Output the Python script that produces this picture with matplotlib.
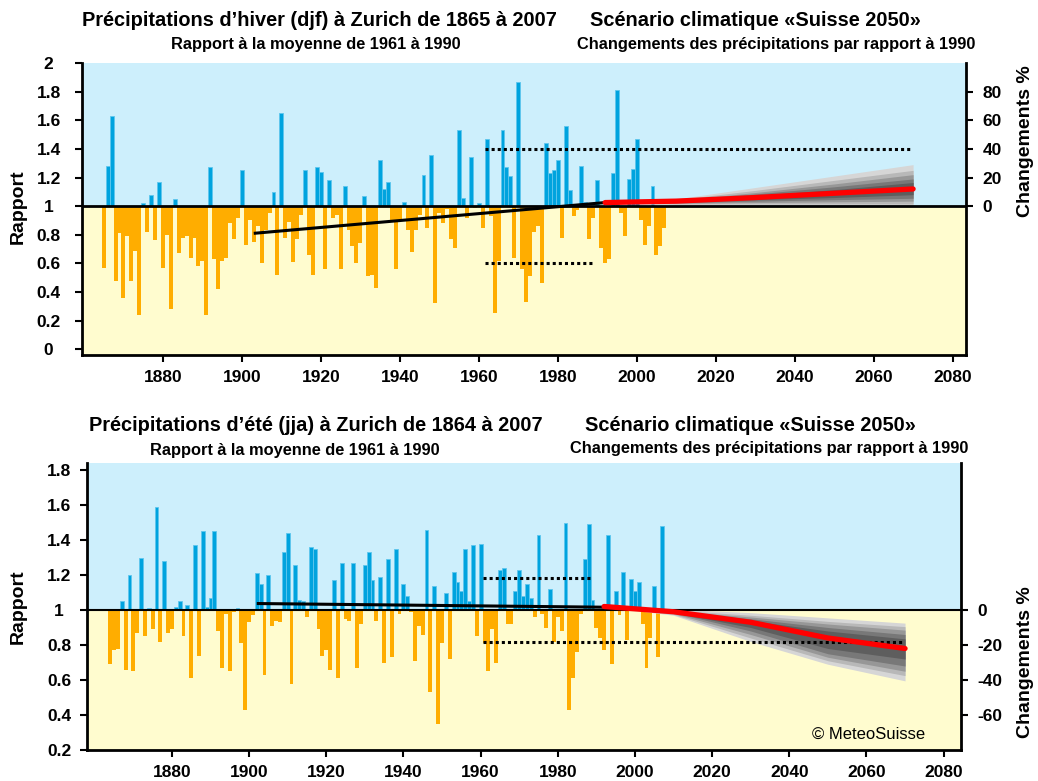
import matplotlib
matplotlib.use("Agg")
import matplotlib.pyplot as plt
import numpy as np

plt.rcParams['font.family'] = ['Liberation Sans', 'DejaVu Sans']

# ---------------- data ----------------
winter_years = list(range(1865, 2008))
winter_ratio = [
    0.57, 1.28, 1.63, 0.48, 0.81, 0.36, 0.79, 0.48, 0.69, 0.24,   # 1865-1874
    1.02, 0.82, 1.08, 0.76, 1.17, 0.57, 0.80, 0.28, 1.05, 0.67,   # 1875-1884
    0.78, 0.79, 0.64, 0.78, 0.58, 0.62, 0.24, 1.27, 0.63, 0.42,   # 1885-1894
    0.62, 0.64, 0.88, 0.77, 0.92, 1.25, 0.73, 0.90, 0.75, 0.86,   # 1895-1904
    0.60, 0.83, 0.95, 1.10, 0.52, 1.65, 0.78, 0.89, 0.61, 0.77,   # 1905-1914
    0.94, 1.25, 0.66, 0.52, 1.27, 1.24, 0.56, 1.18, 0.92, 0.94,   # 1915-1924
    0.56, 1.14, 0.83, 0.72, 0.60, 0.74, 1.07, 0.51, 0.52, 0.43,   # 1925-1934
    1.32, 1.12, 1.17, 0.90, 0.56, 0.90, 1.03, 0.83, 0.68, 0.83,   # 1935-1944
    0.94, 1.22, 0.85, 1.36, 0.32, 0.95, 0.88, 0.98, 0.77, 0.71,   # 1945-1954
    1.53, 1.06, 0.92, 1.34, 0.99, 1.02, 0.85, 1.47, 0.93, 0.25,   # 1955-1964
    0.62, 1.53, 1.27, 1.21, 0.64, 1.87, 0.56, 0.33, 0.51, 0.82,   # 1965-1974
    0.86, 0.46, 1.44, 1.23, 1.25, 1.32, 0.78, 1.56, 1.11, 0.93,   # 1975-1984
    0.97, 1.28, 1.03, 0.77, 0.92, 1.18, 0.71, 0.60, 0.63, 1.23,   # 1985-1994
    1.81, 0.95, 0.79, 1.19, 1.26, 1.47, 0.90, 0.73, 0.86, 1.14,   # 1995-2004
    0.66, 0.72, 0.85,                                             # 2005-2007
]

summer_years = list(range(1864, 2008))
summer_ratio = [
    0.69, 0.77, 0.78, 1.05, 0.66, 1.20,                           # 1864-1869
    0.65, 0.87, 1.30, 0.85, 1.01, 0.89, 1.59, 0.82, 1.28, 0.87,   # 1870-1879
    0.89, 1.02, 1.05, 0.85, 1.03, 0.61, 1.37, 0.74, 1.45, 1.02,   # 1880-1889
    1.07, 1.45, 0.88, 0.67, 0.98, 0.65, 0.99, 1.01, 0.81, 0.43,   # 1890-1899
    0.93, 0.97, 1.21, 1.15, 0.63, 1.20, 0.91, 0.94, 0.93, 1.33,   # 1900-1909
    1.44, 0.58, 1.26, 1.06, 1.05, 0.96, 1.36, 1.35, 0.89, 0.74,   # 1910-1919
    0.77, 0.66, 1.17, 0.61, 1.27, 0.95, 0.94, 1.27, 0.67, 0.92,   # 1920-1929
    1.26, 1.33, 1.17, 0.94, 1.19, 0.70, 1.29, 0.73, 1.35, 0.98,   # 1930-1939
    1.15, 1.08, 0.99, 0.71, 0.91, 0.86, 1.46, 0.53, 1.14, 0.35,   # 1940-1949
    0.81, 1.10, 0.72, 1.22, 1.16, 1.11, 1.35, 1.05, 1.37, 0.85,   # 1950-1959
    1.38, 0.81, 0.65, 0.89, 0.70, 1.23, 1.24, 0.92, 0.92, 1.11,   # 1960-1969
    1.23, 1.08, 1.15, 1.07, 0.96, 1.43, 0.98, 0.90, 1.12, 0.82,   # 1970-1979
    0.96, 0.88, 1.50, 0.43, 0.61, 0.76, 0.98, 1.29, 1.49, 1.06,   # 1980-1989
    0.90, 0.84, 0.77, 1.43, 0.69, 1.11, 0.97, 1.22, 0.83, 1.18,   # 1990-1999
    1.11, 1.16, 0.92, 0.67, 0.84, 1.14, 0.73, 1.48,               # 2000-2007
]

# linear trends (start year, end year, start value, end value)
winter_trend_years = [1903, 1992]
winter_trend_vals = [0.81, 1.025]
summer_trend_years = [1902, 1992]
summer_trend_vals = [1.037, 1.016]

# scenario "Suisse 2050" (percent change relative to 1990)
scen_years = [1992, 2010, 2030, 2050, 2070]
winter_median = [2.5, 3.5, 6.0, 9.0, 12.0]
winter_bands = [  # (low, high) from outer to inner
    ([2.5, 1.0, 0.5, 0.0, 0.0], [2.5, 5.0, 13.0, 21.0, 29.0]),
    ([2.5, 1.5, 1.5, 1.5, 1.5], [2.5, 4.5, 11.0, 18.0, 25.0]),
    ([2.5, 2.0, 2.5, 3.0, 3.5], [2.5, 4.0, 9.5, 15.5, 22.0]),
    ([2.5, 2.5, 3.5, 4.5, 5.5], [2.5, 3.8, 8.5, 13.5, 19.0]),
    ([2.5, 3.0, 4.5, 6.0, 8.0], [2.5, 3.5, 7.5, 11.5, 16.5]),
]
summer_median = [2.0, -1.0, -7.0, -16.0, -22.0]
summer_bands = [
    ([2.0, -3.0, -18.0, -31.0, -40.5], [2.0, 0.5, -1.5, -4.5, -7.5]),
    ([2.0, -2.5, -16.0, -29.0, -37.5], [2.0, 0.0, -3.0, -6.5, -9.5]),
    ([2.0, -2.0, -14.0, -27.0, -35.0], [2.0, -0.5, -4.0, -8.0, -11.5]),
    ([2.0, -1.5, -12.0, -25.0, -32.0], [2.0, -1.0, -5.0, -10.0, -14.0]),
    ([2.0, -1.5, -10.0, -22.0, -28.0], [2.0, -1.5, -6.0, -12.0, -16.5]),
]

# variability dotted lines: (value, start, end)
winter_dotted = [(1.4, 1961.5, 2069.5), (0.6, 1961.5, 1989.0)]
summer_dotted = [(1.185, 1960.5, 1989.0), (0.82, 1960.5, 2069.5)]

x_ticks = [1880, 1900, 1920, 1940, 1960, 1980, 2000, 2020, 2040, 2060, 2080]
winter_yticks = [0, 0.2, 0.4, 0.6, 0.8, 1, 1.2, 1.4, 1.6, 1.8, 2]
summer_yticks = [0.2, 0.4, 0.6, 0.8, 1, 1.2, 1.4, 1.6, 1.8]
winter_pct_ticks = [0, 20, 40, 60, 80]
summer_pct_ticks = [0, -20, -40, -60]

# ---------------- style ----------------
BG_BLUE = '#cdeffc'
BG_YELLOW = '#fffccf'
BAR_BLUE = '#00a3de'
BAR_BLUE_EDGE = '#5ec6ee'
BAR_ORANGE = '#ffad00'
GRAYS = ['#d6d6d6', '#b8b8b8', '#979797', '#787878', '#5e5e5e']
TICK_FS = 12.5

W, H = 1038, 781
fig = plt.figure(figsize=(W / 100, H / 100), dpi=100)


def fmt(v):
    return ('%g' % v)


def panel(rect, xlim, ylim, years, ratio, trend_y, trend_v, med, bands,
          dotted, yticks, pct_ticks, ytick_pad, base_lw):
    ax = fig.add_axes(rect)
    ax.set_xlim(*xlim)
    ax.set_ylim(*ylim)
    ax.axhspan(1, ylim[1], color=BG_BLUE, zorder=0, lw=0)
    ax.axhspan(ylim[0], 1, color=BG_YELLOW, zorder=0, lw=0)
    yrs = np.array(years)
    r = np.array(ratio)
    pos = r >= 1
    ax.bar(yrs[pos], r[pos] - 1, bottom=1, width=1.0, color=BAR_BLUE,
           edgecolor=BAR_BLUE_EDGE, linewidth=0.6, zorder=2)
    ax.bar(yrs[~pos], r[~pos] - 1, bottom=1, width=1.0, color=BAR_ORANGE,
           linewidth=0, zorder=2)
    # scenario fan
    sy = np.array(scen_years)
    for (lo, hi), c in zip(bands, GRAYS):
        ax.fill_between(sy, 1 + np.array(lo) / 100, 1 + np.array(hi) / 100,
                        color=c, lw=0, zorder=3)
    ax.axhline(1, color='black', lw=base_lw, zorder=4)
    for v, a, b in dotted:
        ax.plot([a, b], [v, v], color='black', lw=2.2,
                linestyle=(0, (1, 1)), zorder=5)
    ax.plot(trend_y, trend_v, color='black', lw=2.2, zorder=5,
            solid_capstyle='butt')
    ax.plot(sy, 1 + np.array(med) / 100, color='#ff0000', lw=3.8, zorder=6,
            solid_capstyle='round')

    for s in ['left', 'bottom', 'right']:
        ax.spines[s].set_linewidth(2.0)
    ax.spines['top'].set_visible(False)
    ax.set_xticks(x_ticks)
    ax.set_xticklabels([str(t) for t in x_ticks], fontsize=TICK_FS,
                       fontweight='bold')
    ax.tick_params(axis='x', length=5, width=1.5, pad=6)
    ax.set_yticks(yticks)
    ax.set_yticklabels([fmt(t) for t in yticks], fontsize=TICK_FS,
                       fontweight='bold', ha='center')
    ax.tick_params(axis='y', length=5, width=1.5, pad=ytick_pad)

    ax2 = ax.twinx()
    ax2.set_ylim((ylim[0] - 1) * 100, (ylim[1] - 1) * 100)
    ax2.set_yticks(pct_ticks)
    ax2.set_yticklabels([str(t) for t in pct_ticks], fontsize=TICK_FS,
                        fontweight='bold')
    ax2.tick_params(axis='y', length=5, width=1.5, pad=7)
    for s in ['left', 'bottom', 'right', 'top']:
        ax2.spines[s].set_visible(False)
    return ax, ax2


# top panel (winter)
top_rect = [82 / W, 1 - 355 / H, (966 - 82) / W, (355 - 63) / H]
ax1, ax1r = panel(top_rect, (1859.5, 2083.4), (-0.04, 2.0), winter_years,
                  winter_ratio, winter_trend_years, winter_trend_vals,
                  winter_median, winter_bands, winter_dotted, winter_yticks,
                  winter_pct_ticks, 19, 2.0)

# bottom panel (summer)
bot_rect = [87 / W, 1 - 750 / H, (961 - 87) / W, (750 - 463) / H]
ax2, ax2r = panel(bot_rect, (1858.0, 2084.5), (0.2, 1.84), summer_years,
                  summer_ratio, summer_trend_years, summer_trend_vals,
                  summer_median, summer_bands, summer_dotted, summer_yticks,
                  summer_pct_ticks, 15, 1.5)
ax2.text(2075.3, 0.29, '© MeteoSuisse', fontsize=12, ha='right',
         va='center', zorder=7)


def ftxt(x, y, s, size, rot=0):
    fig.text(x / W, 1 - y / H, s, ha='center', va='center', fontsize=size,
             fontweight='bold', rotation=rot)


# axis labels
ftxt(18, 207, 'Rapport', 14, 90)
ftxt(18, 607, 'Rapport', 14, 90)
ftxt(1025, 141, 'Changements %', 14, 90)
ftxt(1025, 662, 'Changements %', 14, 90)

# titles
ftxt(319, 20, 'Précipitations d’hiver (djf) à Zurich de 1865 à 2007', 14.4)
ftxt(316, 45, 'Rapport à la moyenne de 1961 à 1990', 11.8)
ftxt(755, 20, 'Scénario climatique «Suisse 2050»', 14.4)
ftxt(776, 44, 'Changements des précipitations par rapport à 1990', 11.8)

ftxt(316, 426, 'Précipitations d’été (jja) à Zurich de 1864 à 2007', 14.4)
ftxt(295, 450, 'Rapport à la moyenne de 1961 à 1990', 11.8)
ftxt(750, 426, 'Scénario climatique «Suisse 2050»', 14.4)
ftxt(769, 449, 'Changements des précipitations par rapport à 1990', 11.8)

fig.savefig('out.png', dpi=100)
